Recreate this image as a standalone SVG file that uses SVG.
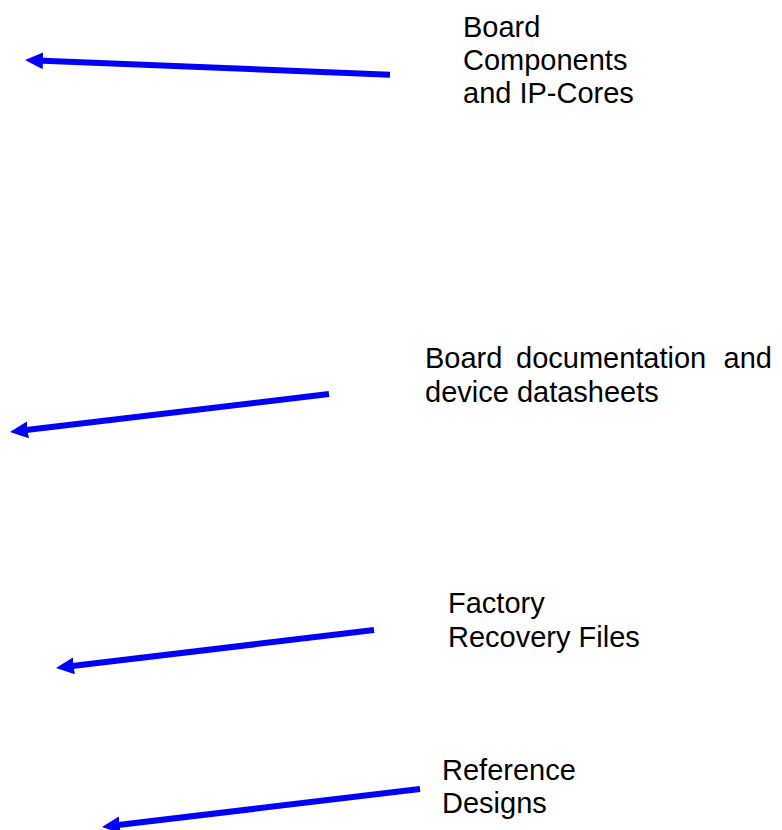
<svg xmlns="http://www.w3.org/2000/svg" width="782" height="830" viewBox="0 0 782 830">
  <style>
    .label { font-family: "Liberation Sans", Arial, sans-serif; font-size: 29px; fill: #000000; }
    .arrow { fill: none; stroke: #0000FF; stroke-width: 6; marker-end: url(#head); }
  </style>
  <defs>
    <marker id="head" markerUnits="userSpaceOnUse" markerWidth="18" markerHeight="17" viewBox="0 0 18 17" refX="6" refY="8.5" orient="auto">
      <path d="M0,0 L18,8.5 L0,17 z" fill="#0000FF"/>
    </marker>
  </defs>
  <rect width="782" height="830" fill="#FFFFFF"/>

  <g id="connectors">
    <path class="arrow" d="M390,74.7 L37,60.5"/>
    <path class="arrow" d="M329,394 L21.9,430.6"/>
    <path class="arrow" d="M374,630 L67.9,666.6"/>
    <path class="arrow" d="M420,789 L113.9,825.6"/>
  </g>

  <g id="board-components">
    <text class="label"><tspan x="463" y="37">Board</tspan><tspan x="463" y="70">Components</tspan><tspan x="463" y="103">and IP-Cores</tspan></text>
  </g>

  <g id="board-documentation">
    <text class="label"><tspan x="425" y="368">Board</tspan><tspan x="516" y="368">documentation</tspan><tspan x="772" y="368" text-anchor="end">and</tspan><tspan x="425" y="402">device datasheets</tspan></text>
  </g>

  <g id="factory-recovery">
    <text class="label"><tspan x="448" y="613">Factory</tspan><tspan x="448" y="647">Recovery Files</tspan></text>
  </g>

  <g id="reference-designs">
    <text class="label"><tspan x="442" y="780">Reference</tspan><tspan x="442" y="813">Designs</tspan></text>
  </g>
</svg>
